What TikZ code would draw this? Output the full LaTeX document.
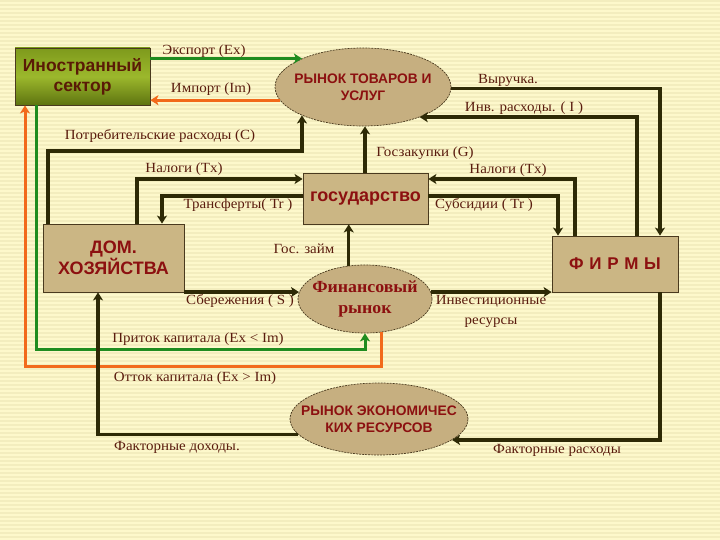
\documentclass[tikz,border=0pt]{standalone}
\usepackage{fontspec}
\setmainfont{Liberation Serif}
\newfontfamily\hsans{Liberation Sans}
\newfontfamily\lblfont[FakeStretch=1.07]{Liberation Serif}
\newfontfamily\finfont[FakeStretch=1.05]{Liberation Serif}
\usetikzlibrary{arrows.meta,shapes.geometric}
\definecolor{bgc}{HTML}{FDF8CB}
\definecolor{stripec}{HTML}{F3EDBE}
\definecolor{tanc}{HTML}{CBB684}
\definecolor{ellc}{HTML}{C6AF80}
\definecolor{boxb}{HTML}{4A3A1E}
\definecolor{darkl}{HTML}{2E2A06}
\definecolor{greenl}{HTML}{1F8C1F}
\definecolor{orangel}{HTML}{F26A1B}
\definecolor{lblc}{HTML}{5A1C0E}
\definecolor{titc}{HTML}{8C1010}
\definecolor{isc}{HTML}{5A1A06}
\definecolor{istop}{HTML}{7E9A1C}
\definecolor{ismid}{HTML}{9CB82C}
\definecolor{isbot}{HTML}{5E7410}
\begin{document}
\begin{tikzpicture}[x=1pt,y=-1pt,
  lbl/.style={text=lblc,font=\lblfont\fontsize{14}{16}\selectfont,inner sep=0pt},
  tbox/.style={rectangle,draw=boxb,line width=0.8pt,fill=tanc,text=titc,align=center,inner sep=0pt},
  ell/.style={ellipse,draw=boxb,line width=0.7pt,dash pattern=on 2pt off 1pt,fill=ellc,inner sep=0pt},
  etext/.style={text=titc,align=center,inner sep=0pt},
  arr/.style={draw=darkl,line width=3.4pt,line join=miter,-{Stealth[length=8pt,width=10pt,inset=2pt]}},
  garr/.style={draw=greenl,line width=3pt,line join=miter,-{Stealth[length=8pt,width=10pt,inset=2pt]}},
  oarr/.style={draw=orangel,line width=3pt,line join=miter,-{Stealth[length=8pt,width=10pt,inset=2pt]}}]
\useasboundingbox (0,0) rectangle (720,540);
\fill[bgc] (0,0) rectangle (720,540);
\foreach \yy in {1,5,...,540} \draw[stripec,line width=1.2pt] (0,\yy) -- (720,\yy);

% nodes
\node[rectangle,draw=boxb,line width=0.8pt,minimum width=135pt,minimum height=57pt,
  top color=istop,bottom color=isbot,middle color=ismid,text=isc,align=center,
  font=\hsans\bfseries\fontsize{17.5}{20}\selectfont] (is) at (82.5,76.5) {Иностранный\\сектор};
\node[ell,minimum width=176pt,minimum height=78pt] (goods) at (363,87) {};
\node[etext,font=\hsans\bfseries\fontsize{13.8}{17}\selectfont] (goodst) at (goods.center) {РЫНОК ТОВАРОВ И\\УСЛУГ};
\node[tbox,minimum width=125pt,minimum height=51pt,font=\hsans\bfseries\fontsize{18}{20}\selectfont] (gov) at (365.5,198.5) {государство};
\node[tbox,minimum width=141pt,minimum height=68pt,font=\hsans\bfseries\fontsize{18}{21}\selectfont] (hh) at (113.5,258) {ДОМ.\\ХОЗЯЙСТВА};
\node[tbox,minimum width=126pt,minimum height=56pt,font=\hsans\bfseries\fontsize{17}{19}\selectfont] (firms) at (615,264) {Ф\,\,И\,\,Р\,\,М\,\,Ы};
\node[ell,minimum width=134pt,minimum height=68pt] (fin) at (365,299) {};
\node[etext,font=\finfont\bfseries\fontsize{17}{21}\selectfont] (fint) at (fin.center) {Финансовый\\рынок};
\node[ell,minimum width=178pt,minimum height=72pt] (res) at (379,419) {};
\node[etext,font=\hsans\bfseries\fontsize{13.8}{17}\selectfont] (rest) at (res.center) {РЫНОК ЭКОНОМИЧЕС\\КИХ РЕСУРСОВ};

% coloured flows
\draw[garr] (is.east |- goods.155) -- (goods.155);
\draw[oarr] (goods.189) -- (is.east |- goods.189);
\draw[garr] (is.south -| 36,0) -- (36,349) -| (fin.south);
\draw[oarr] (fin.-63) -- (fin.-63 |- 0,366) -| (is.south -| 25,0);

% dark flows
\draw[arr] (hh.north -| 48,0) -- (48,151) -| (goods.205);
\draw[arr] (gov.north -| 365,0) -- (goods.south -| 365,0);
\draw[arr] (hh.north -| 137,0) |- (gov.west |- 0,179);
\draw[arr] (gov.west |- 0,196) -| (hh.north -| 162,0);
\draw[arr] (goods.-1) -| (firms.north -| 660,0);
\draw[arr] (firms.north -| 637,0) |- (goods.-28);
\draw[arr] (firms.north -| 575,0) |- (gov.east |- 0,179);
\draw[arr] (gov.east |- 0,196) -| (firms.north -| 558,0);
\draw[arr] (fin.116) -- (fin.116 |- gov.south);
\draw[arr] (hh.south east |- fin.174) -- (fin.174);
\draw[arr] (fin.6) -- (fin.6 -| firms.west);
\draw[arr] (res.191) -| (hh.south -| 98,0);
\draw[arr] (firms.south -| 660,0) |- (res.-16);

% labels
\node[lbl] (lex) at (204,51) {Экспорт (Ex)};
\node[lbl] (lim) at (211,89) {Импорт (Im)};
\node[lbl] (lc) at (160,136) {Потребительские расходы (C)};
\node[lbl] (lrev) at (508,80) {Выручка.};
\node[lbl] (linv) at (524,108) {Инв. расходы. ( I )};
\node[lbl] (lg) at (425,153) {Госзакупки (G)};
\node[lbl] (ltx1) at (184,169) {Налоги (Tx)};
\node[lbl] (ltr) at (238,205) {Трансферты( Tr )};
\node[lbl] (ltx2) at (508,170) {Налоги (Tx)};
\node[lbl] (lsub) at (484,205) {Субсидии ( Tr )};
\node[lbl] (lloan) at (304,249) {Гос. займ};
\node[lbl] (ls) at (240,301) {Сбережения ( S )};
\node[lbl,align=center,font=\lblfont\fontsize{14}{20}\selectfont] (lir) at (491,311) {Инвестиционные\\ресурсы};
\node[lbl] (lin) at (198,339) {Приток капитала (Ex < Im)};
\node[lbl] (lout) at (195,378) {Отток капитала (Ex > Im)};
\node[lbl] (lfi) at (177,447) {Факторные доходы.};
\node[lbl] (lfe) at (557,450) {Факторные расходы};
\end{tikzpicture}
\end{document}
